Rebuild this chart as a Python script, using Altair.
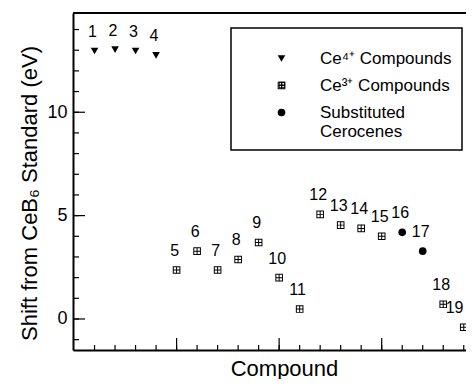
import altair as alt
import pandas as pd

# ---- data ----
compound = list(range(1, 20))
shift = [12.96, 13.03, 12.96, 12.75, 2.37, 3.28, 2.37, 2.88, 3.70, 2.00,
         0.48, 5.06, 4.54, 4.38, 4.00, 4.19, 3.28, 0.71, -0.40]
G4 = "Ce\u2074\u207a Compounds"
G3 = "Ce\u00b3\u207a Compounds"
GS = "Substituted Cerocenes"
group = [G4] * 4 + [G3] * 11 + [GS] * 2 + [G3] * 2
groups = [G4, G3, GS]

y_major = [0, 5, 10]
y_minor = list(range(-1, 15))
x_major = [5, 10, 15]
x_minor = list(range(1, 20))

X_LO, X_HI = -0.05, 19.11
Y_LO, Y_HI = -1.5, 14.8

W, H = 393, 337
FONT = "Liberation Sans"

df = pd.DataFrame({"compound": compound, "shift": shift, "group": group,
                   "label": [str(c) for c in compound]})

xs = alt.Scale(domain=[X_LO, X_HI], nice=False, zero=False)
ys = alt.Scale(domain=[Y_LO, Y_HI], nice=False, zero=False)

# square with a cross inside, drawn as a filled outline (holes wound the other way)
cross_sq = ("M-1,-1H1V1H-1Z "
            "M-0.74,-0.74V-0.13H-0.13V-0.74Z M0.13,-0.74V-0.13H0.74V-0.74Z "
            "M-0.74,0.13V0.74H-0.13V0.13Z M0.13,0.13V0.74H0.74V0.13Z")
LEXPR = "datum.label == 'Substituted Cerocenes' ? ['Substituted', 'Cerocenes'] : datum.label"

points = alt.Chart(df).mark_point(filled=True, fill="black", strokeWidth=0, opacity=1,
                                  size=58).encode(
    x=alt.X("compound:Q", scale=xs,
            axis=alt.Axis(labels=False, ticks=False, grid=False, title="Compound",
                          domainColor="black", domainWidth=2,
                          titleFont=FONT, titleFontSize=22, titleFontWeight="normal",
                          titleColor="black", titleY=25, titleX=211, titleBaseline="alphabetic")),
    y=alt.Y("shift:Q", scale=ys,
            axis=alt.Axis(values=y_major, ticks=False, grid=False,
                          title="Shift from CeB\u2086 Standard (eV)",
                          domainColor="black", domainWidth=2,
                          labelFont=FONT, labelFontSize=18, labelColor="black", labelPadding=6,
                          titleFont=FONT, titleFontSize=22, titleFontWeight="normal",
                          titleColor="black", titlePadding=5, titleY=180)),
    shape=alt.Shape("group:N", scale=alt.Scale(domain=groups,
                    range=["triangle-down", cross_sq, "circle"]),
                    legend=alt.Legend(title="\u00a0", labelExpr=LEXPR, orient="none",
                                      legendX=158, legendY=15)),
)

# number labels; the last one is nudged left so it stays inside the page
labels = alt.Chart(df).transform_calculate(
    lx="datum.compound == 19 ? datum.compound - 0.35 : datum.compound"
).mark_text(font=FONT, fontSize=16, dx=-2, dy=-19, color="black").encode(
    x=alt.X("lx:Q", scale=xs), y=alt.Y("shift:Q", scale=ys), text="label:N")

def yticks(vals, length):
    return alt.Chart(pd.DataFrame({"v": vals})).mark_rule(color="black", strokeWidth=1.2).encode(
        y=alt.Y("v:Q", scale=ys), x=alt.value(0), x2=alt.value(length))

def xticks(vals, length):
    return alt.Chart(pd.DataFrame({"v": vals})).mark_rule(color="black", strokeWidth=1.2).encode(
        x=alt.X("v:Q", scale=xs), y=alt.value(H), y2=alt.value(H - length))

# top frame line along the upper edge of the plot
top = alt.Chart(pd.DataFrame({"x0": [X_LO], "x1": [X_HI + 1], "yt": [Y_HI]})).mark_rule(
    color="black", strokeWidth=2).encode(
    x=alt.X("x0:Q", scale=xs), x2="x1:Q", y=alt.Y("yt:Q", scale=ys))

# legend symbol for the Ce3+ row (custom path symbols are not drawn by the legend itself)
leg_sym = alt.Chart(pd.DataFrame({"g": [G3]})).mark_point(
    filled=True, fill="black", strokeWidth=0, opacity=1, size=40, shape=cross_sq
).encode(x=alt.value(209), y=alt.value(72))

chart = alt.layer(
    yticks(y_minor, 6), yticks(y_major, 12), xticks(x_minor, 5), xticks(x_major, 12), top,
    points, labels, leg_sym
).properties(
    width=W, height=H, background="white",
    autosize=alt.AutoSizeParams(type="none"),
    padding={"left": 65, "top": 5, "right": 0, "bottom": 29},
).configure_view(stroke=None).configure_legend(
    strokeColor="black", strokeWidth=1.5, padding=10,
    symbolOffset=32, labelOffset=30, rowPadding=9,
    titleFontSize=6, titlePadding=6,
    labelFont=FONT, labelFontSize=17, labelColor="black",
    symbolFillColor="black", symbolStrokeWidth=0, symbolSize=58,
)

chart.save("out.html", embed_options={"renderer": "svg", "actions": False})
